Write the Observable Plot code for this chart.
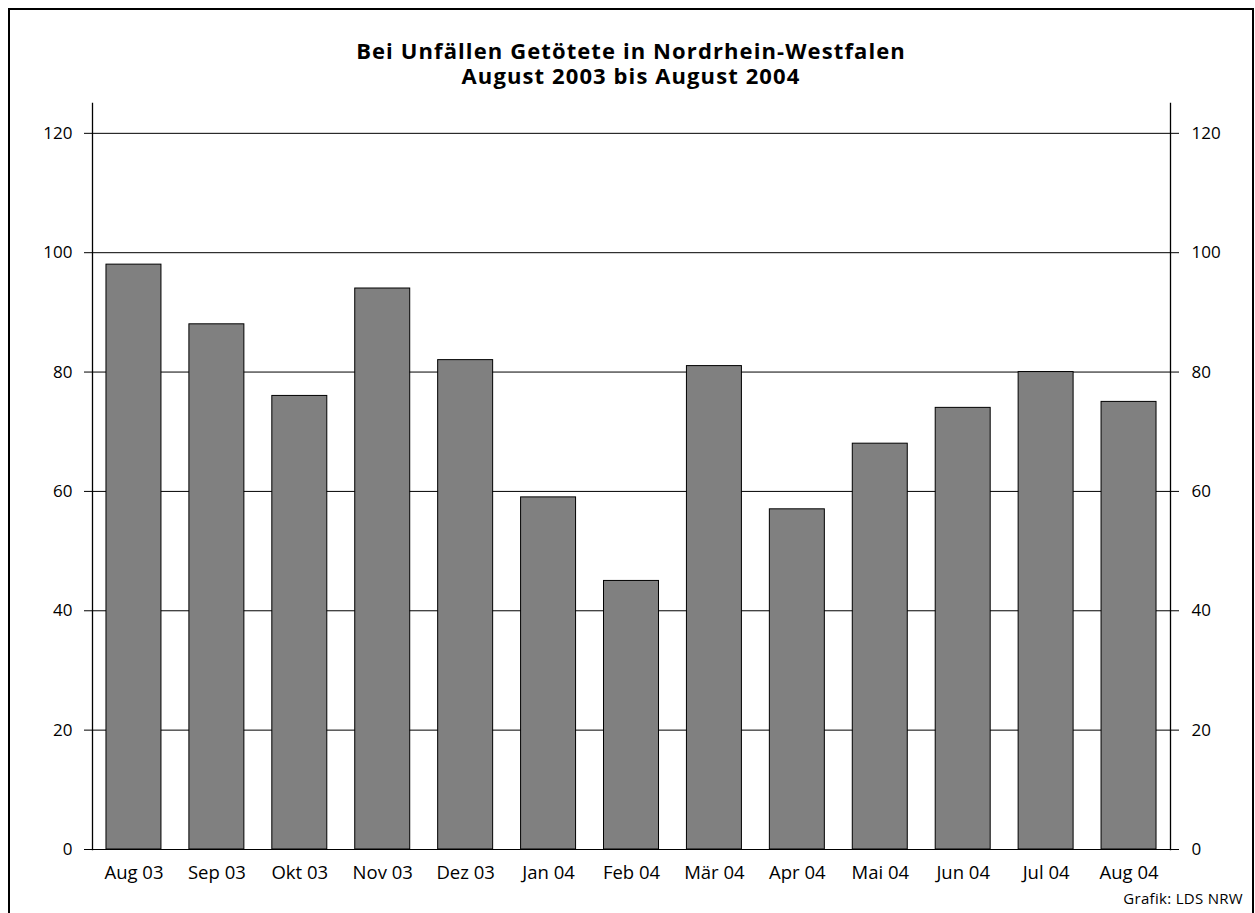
<!DOCTYPE html>
<html>
<head>
<meta charset="utf-8">
<script src="https://cdn.jsdelivr.net/npm/d3@7"></script>
<script src="https://cdn.jsdelivr.net/npm/@observablehq/plot@0.6"></script>
<style>
  html, body { margin: 0; padding: 0; background: #fff; }
  #wrap { position: relative; width: 1255px; height: 913px; overflow: hidden; font-family: "Open Sans", sans-serif; }
  #frame { position: absolute; left: 8px; top: 8px; width: 1246px; height: 920px; border: 2px solid #000; box-sizing: border-box; }
  .title { position: absolute; left: 0; width: 1262px; text-align: center; font-weight: bold; font-size: 22px; line-height: 22px; letter-spacing: 1.1px; color: #000; }
  #t1 { top: 39px; }
  #t2 { top: 64px; }
  #chart { position: absolute; left: 0; top: 0; }
  #caption { position: absolute; right: 12px; top: 888px; font-size: 15px; letter-spacing: 0.3px; color: #000; }
</style>
</head>
<body>
<div id="wrap">
  <div id="chart"></div>
  <div id="frame"></div>
  <div class="title" id="t1">Bei Unfällen Getötete in Nordrhein-Westfalen</div>
  <div class="title" id="t2">August 2003 bis August 2004</div>
  <div id="caption">Grafik: LDS NRW</div>
</div>
<script>
const months = ["Aug 03","Sep 03","Okt 03","Nov 03","Dez 03","Jan 04","Feb 04","Mär 04","Apr 04","Mai 04","Jun 04","Jul 04","Aug 04"];
const values = [98, 88, 76, 94, 82, 59, 45, 81, 57, 68, 74, 80, 75];
const yTicks = [0, 20, 40, 60, 80, 100, 120];

const data = months.map((m, i) => ({month: m, value: values[i]}));

const chart = Plot.plot({
  width: 1255,
  height: 913,
  marginTop: 103,
  marginBottom: 64,
  marginLeft: 92,
  marginRight: 85,
  style: {fontFamily: "Open Sans, sans-serif", fontSize: "17px", color: "#000", background: "transparent"},
  x: {domain: months, paddingInner: 0.337, paddingOuter: 0.1685, round: false, label: null},
  y: {domain: [0, 125], label: null},
  marks: [
    Plot.gridY(yTicks, {stroke: "#000", strokeOpacity: 1, strokeWidth: 1}),
    Plot.barY(data, {x: "month", y: "value", fill: "#808080", stroke: "#000", strokeWidth: 1}),
    Plot.frame({anchor: "left", stroke: "#000", strokeWidth: 1.3}),
    Plot.frame({anchor: "right", stroke: "#000", strokeWidth: 1.3}),
    Plot.axisY(yTicks, {anchor: "left", tickSize: 8, tickPadding: 12, label: null, fontSize: 17}),
    Plot.axisY(yTicks, {anchor: "right", tickSize: 8, tickPadding: 13, label: null, fontSize: 17}),
    Plot.axisX({anchor: "bottom", tickSize: 0, tickPadding: 16, label: null, fontSize: 18.5})
  ]
});
document.getElementById("chart").appendChild(chart);
</script>
</body>
</html>
